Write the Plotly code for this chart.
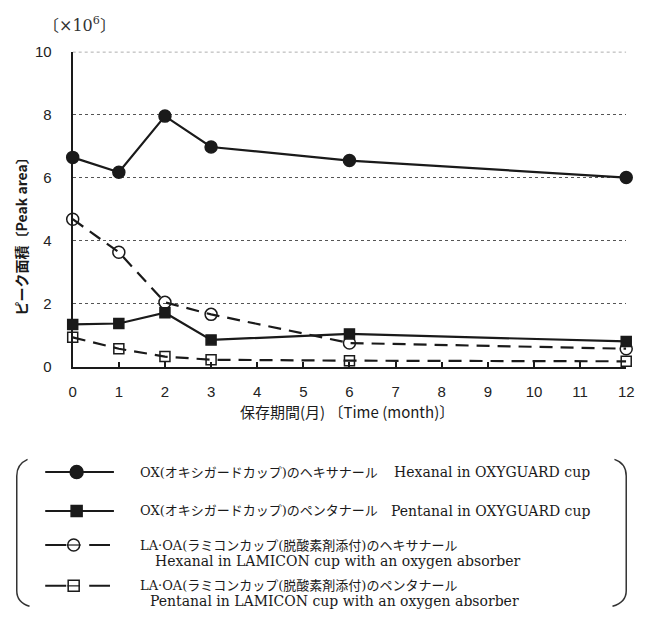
import plotly.graph_objects as go

# ---------------- data ----------------
months = [0, 1, 2, 3, 6, 12]
hexanal_ox = [6.65, 6.18, 7.96, 6.98, 6.55, 6.01]
pentanal_ox = [1.35, 1.38, 1.72, 0.86, 1.05, 0.81]
hexanal_la = [4.69, 3.64, 2.05, 1.67, 0.76, 0.58]
pentanal_la = [0.94, 0.58, 0.33, 0.23, 0.20, 0.18]

x_ticks = list(range(0, 13))
y_ticks = [0, 2, 4, 6, 8, 10]

legend_jp = [
    "OX(オキシガードカップ)のヘキサナール",
    "OX(オキシガードカップ)のペンタナール",
    "LA·OA(ラミコンカップ(脱酸素剤添付)のヘキサナール",
    "LA·OA(ラミコンカップ(脱酸素剤添付)のペンタナール",
]
legend_en = [
    "Hexanal in OXYGUARD cup",
    "Pentanal in OXYGUARD cup",
    "Hexanal in LAMICON cup with an oxygen absorber",
    "Pentanal in LAMICON cup with an oxygen absorber",
]

W, H = 646, 625
def px(x):
    return x / W
def py(y):
    return 1 - y / H

BLACK = "#1a1a1a"
SANS = "Liberation Sans, Arial, Noto Sans CJK JP"
CJK_SANS = "Noto Sans CJK JP, Liberation Sans"
SERIF = "DejaVu Serif, Noto Sans CJK JP"
DASH = "13px,8px"

fig = go.Figure()

series = [
    (hexanal_ox, "solid", "circle", 12),
    (pentanal_ox, "solid", "square", 10),
    (hexanal_la, DASH, "circle-open", 12),
    (pentanal_la, DASH, "square-open", 10),
]
for vals, dash, sym, size in series:
    fig.add_trace(go.Scatter(
        x=months, y=vals, mode="lines+markers",
        line=dict(color=BLACK, width=2.2, dash=dash),
        marker=dict(symbol=sym, size=size, color=BLACK,
                    line=dict(color=BLACK, width=1.5)),
        cliponaxis=False, showlegend=False, hoverinfo="skip",
    ))

# ---------------- custom legend (pixel-unit axis) ----------------
rows_y = [476, 516, 551, 593]
legend_styles = [
    ("solid", "circle", 13, None),
    ("solid", "square", 11, None),
    ("21px,23px", "circle-open", 12, "line-ew"),
    ("21px,23px", "square-open", 11, "line-ew"),
]
for ry, (dash, sym, size, inner) in zip(rows_y, legend_styles):
    x0, x1 = (42, 112) if dash == "solid" else (42, 108)
    xm = 74 if dash == "solid" else 71
    fig.add_trace(go.Scatter(
        x=[x0, x1], y=[ry, ry], mode="lines", xaxis="x2", yaxis="y2",
        line=dict(color=BLACK, width=2, dash=dash),
        showlegend=False, hoverinfo="skip",
    ))
    fig.add_trace(go.Scatter(
        x=[xm], y=[ry], mode="markers", xaxis="x2", yaxis="y2",
        marker=dict(symbol=sym, size=size, color=BLACK,
                    line=dict(color=BLACK, width=1.5)),
        showlegend=False, hoverinfo="skip",
    ))
    if inner:
        fig.add_trace(go.Scatter(
            x=[xm], y=[ry], mode="markers", xaxis="x2", yaxis="y2",
            marker=dict(symbol=inner, size=size - 2, color=BLACK,
                        line=dict(color=BLACK, width=1.2)),
            showlegend=False, hoverinfo="skip",
        ))

annotations = []
lfont_jp = dict(family=SERIF, size=13, color=BLACK)
lfont_en = dict(family=SERIF, size=14, color=BLACK)
# rows 1-2: JP + EN on one line
annotations.append(dict(x=px(137), y=py(rows_y[0]), text=legend_jp[0], font=lfont_jp))
annotations.append(dict(x=px(395), y=py(rows_y[0]), text=legend_en[0], font=lfont_en))
annotations.append(dict(x=px(137), y=py(rows_y[1]), text=legend_jp[1], font=lfont_jp))
annotations.append(dict(x=px(392), y=py(rows_y[1]), text=legend_en[1], font=lfont_en))
# rows 3-4: two lines
annotations.append(dict(x=px(137), y=py(rows_y[2]), text=legend_jp[2], font=lfont_jp))
annotations.append(dict(x=px(152), y=py(rows_y[2] + 16), text=legend_en[2], font=lfont_en))
annotations.append(dict(x=px(137), y=py(rows_y[3]), text=legend_jp[3], font=lfont_jp))
annotations.append(dict(x=px(147), y=py(rows_y[3] + 16), text=legend_en[3], font=lfont_en))
for a in annotations:
    a.update(xref="paper", yref="paper", xanchor="left", yanchor="middle",
             showarrow=False)

# unit label, axis titles
annotations.append(dict(x=px(38), y=py(16), xref="paper", yref="paper",
                        xanchor="left", yanchor="middle", showarrow=False,
                        text="〔×10<sup>6</sup>〕",
                        font=dict(family="DejaVu Serif, Noto Sans CJK JP", size=16, color="#333")))
annotations.append(dict(x=px(17), y=py(230), xref="paper", yref="paper",
                        xanchor="center", yanchor="middle", showarrow=False,
                        textangle=-90, text="<b>ピーク面積〔Peak area〕</b>",
                        font=dict(family=CJK_SANS, size=14, color=BLACK)))
annotations.append(dict(x=px(350), y=py(414), xref="paper", yref="paper",
                        xanchor="center", yanchor="middle", showarrow=False,
                        text="保存期間(月) 〔Time (month)〕",
                        font=dict(family=CJK_SANS, size=15, color=BLACK)))

# brackets and top gridline
shapes = [
    dict(type="path", xref="paper", yref="paper",
         path=f"M {px(24)},{py(463)} Q {px(13)},{py(468)} {px(13)},{py(480)} "
              f"L {px(13)},{py(598)} Q {px(13)},{py(610)} {px(26)},{py(614)}",
         line=dict(color="#333", width=1.5)),
    dict(type="path", xref="paper", yref="paper",
         path=f"M {px(622)},{py(463)} Q {px(634)},{py(467)} {px(634)},{py(480)} "
              f"L {px(634)},{py(598)} Q {px(634)},{py(610)} {px(620)},{py(614)}",
         line=dict(color="#333", width=1.5)),
    dict(type="line", xref="x", yref="y", x0=0, x1=12, y0=y_ticks[-1], y1=y_ticks[-1],
         line=dict(color="#555", width=1, dash="dot"), layer="below"),
]

fig.update_layout(
    width=W, height=H,
    margin=dict(l=0, r=0, t=0, b=0),
    paper_bgcolor="white", plot_bgcolor="white",
    showlegend=False,
    annotations=annotations, shapes=shapes,
    xaxis=dict(domain=[px(70), px(634)], range=[0, 12], tickvals=x_ticks,
               ticks="inside", ticklen=5, tickwidth=1.5, tickcolor=BLACK,
               showline=True, linewidth=2, linecolor=BLACK,
               showgrid=False, zeroline=False, ticklabelstandoff=10,
               tickfont=dict(family=SANS, size=15, color="#222"),
               anchor="y"),
    yaxis=dict(domain=[py(368), py(44)], range=[0, 10], tickvals=y_ticks,
               ticks="", showline=True, linewidth=2, linecolor=BLACK,
               showgrid=True, gridcolor="#555", griddash="dot", gridwidth=1,
               zeroline=False, ticklabelstandoff=16,
               tickfont=dict(family=SANS, size=15, color="#222"),
               anchor="x"),
    xaxis2=dict(domain=[0, 1], range=[0, W], visible=False, anchor="y2",
                fixedrange=True),
    yaxis2=dict(domain=[0, py(450)], range=[H, 450], visible=False,
                anchor="x2", fixedrange=True),
)

fig.write_html("out.html")
